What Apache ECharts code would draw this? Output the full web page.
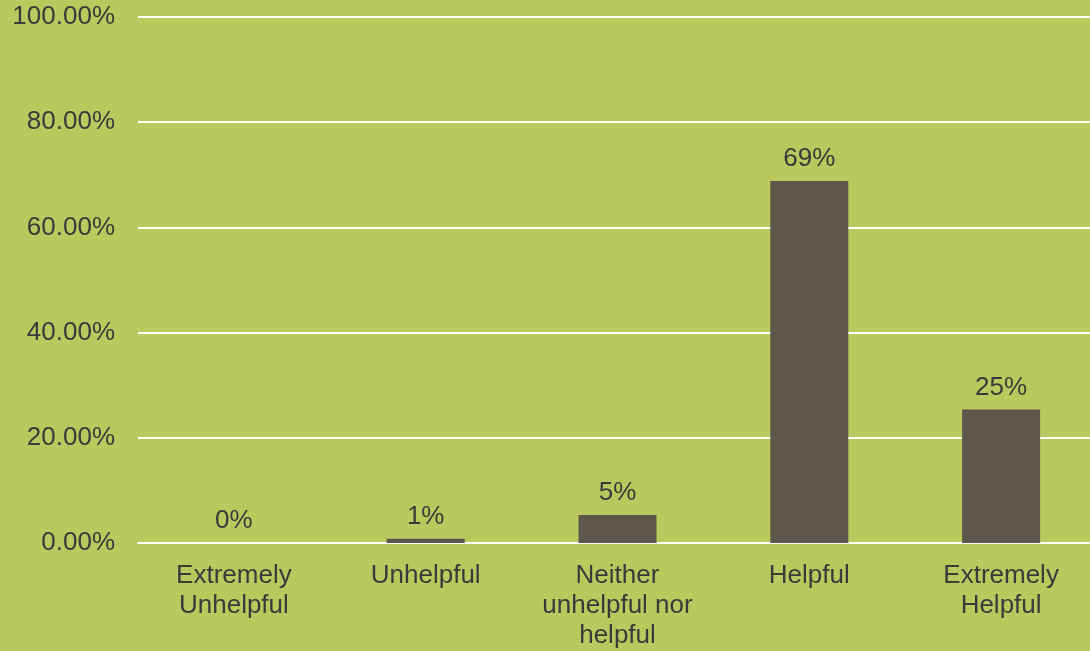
<!DOCTYPE html>
<html>
<head>
<meta charset="utf-8">
<script src="https://cdn.jsdelivr.net/npm/echarts@6/dist/echarts.min.js"></script>
<style>
  html, body { margin: 0; padding: 0; background: #b9c95d; overflow: hidden; }
  /* plot runs a little past the right edge, like the original */
  #chart { width: 1097px; height: 651px; }
</style>
</head>
<body>
<div id="chart"></div>
<script>
// categories and percentages
const categories = ['Extremely\nUnhelpful', 'Unhelpful', 'Neither\nunhelpful nor\nhelpful', 'Helpful', 'Extremely\nHelpful']
const shares = [0, 0.8, 5.3, 68.8, 25.4]
const yTicks = [0, 20, 40, 60, 80, 100]

const textColor = '#3a3a3a'
const chart = echarts.init(document.getElementById('chart'))
chart.setOption({
  backgroundColor: '#b9c95d',
  animation: false,
  grid: { left: 138, right: 0, top: 17, bottom: 107 },
  xAxis: {
    type: 'category',
    data: categories,
    axisTick: { show: false },
    axisLine: { show: true, lineStyle: { color: '#ffffff', width: 2 } },
    axisLabel: {
      color: textColor,
      fontFamily: 'Liberation Sans, Arial',
      fontSize: 26,
      lineHeight: 30,
      margin: 18,
      interval: 0
    }
  },
  yAxis: {
    type: 'value',
    min: yTicks[0],
    max: yTicks[yTicks.length - 1],
    interval: 20,
    axisLine: { show: false },
    axisTick: { show: false },
    splitLine: { lineStyle: { color: '#ffffff', width: 2 } },
    axisLabel: {
      color: textColor,
      fontFamily: 'Liberation Sans, Arial',
      fontSize: 26,
      margin: 23,
      formatter: v => v.toFixed(2) + '%'
    }
  },
  series: [{
    type: 'bar',
    data: shares,
    barWidth: 78,
    itemStyle: { color: '#5e564b' },
    label: {
      show: true,
      position: 'top',
      distance: 9,
      color: textColor,
      fontFamily: 'Liberation Sans, Arial',
      fontSize: 26,
      formatter: p => Math.round(p.value) + '%'
    }
  }]
})
</script>
</body>
</html>
